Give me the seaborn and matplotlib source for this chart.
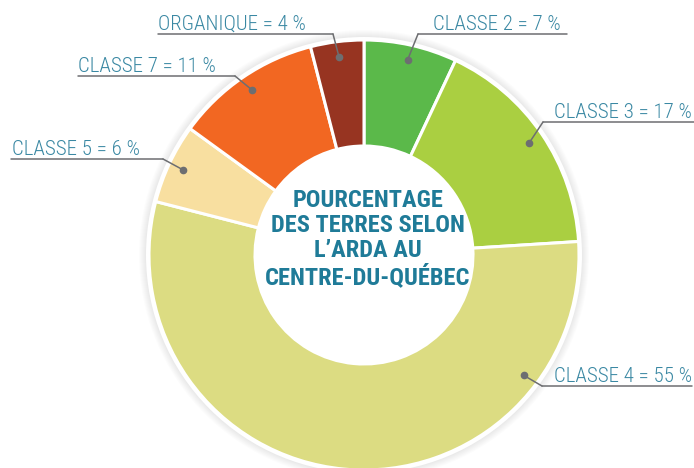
import matplotlib
matplotlib.use('Agg')
import matplotlib.pyplot as plt
from matplotlib import font_manager as fm
import seaborn as sns
import numpy as np
from matplotlib.patches import Circle

categories = ['CLASSE 2', 'CLASSE 3', 'CLASSE 4', 'CLASSE 5', 'CLASSE 7', 'ORGANIQUE']
percents = [7, 17, 55, 6, 11, 4]
colors = ['#5BB94A', '#AACF41', '#DCDC82', '#F8DFA0', '#F26722', '#973421']
title_lines = ['POURCENTAGE', 'DES TERRES SELON', 'L\u2019ARDA AU', 'CENTRE-DU-QUÉBEC']

# layout in image pixels (y down): text left x, underline y, underline x0, x1
label_layout = {
    'CLASSE 2': (433, 34, 418, 567),
    'CLASSE 3': (554, 122, 543, 694),
    'CLASSE 4': (554, 386, 542, 692),
    'CLASSE 5': (12, 159, 11, 163),
    'CLASSE 7': (78, 76, 78, 235),
    'ORGANIQUE': (158, 34, 158, 333),
}
dot_override = {'CLASSE 4': -37}

W, H = 694, 468
CX, CY = 364, 255
R, R_IN = 215, 109

sns.set_theme(style='white')

# narrow face if installed
names = {f.name for f in fm.fontManager.ttflist}
fam = 'DejaVu Sans'
for cand in ['Roboto Condensed', 'Liberation Sans Narrow']:
    if cand in names:
        fam = cand
        break
plt.rcParams['font.family'] = [fam, 'DejaVu Sans']

fig = plt.figure(figsize=(W / 100, H / 100), dpi=100)
ax = fig.add_axes([0, 0, 1, 1])

# faint shadow around the ring
for i in range(8):
    ax.add_patch(Circle((CX, H - CY), R + 3 + i, color='black', alpha=0.01, lw=0, zorder=0))
ax.add_patch(Circle((CX, H - CY), R + 3, color='white', lw=0, zorder=0.5))

wedges, _ = ax.pie(percents, colors=colors, startangle=90, counterclock=False,
                   center=(CX, H - CY), radius=R,
                   wedgeprops=dict(width=R - R_IN, edgecolor='white', linewidth=2.2))

text_col = '#3A88A3'
line_col = '#6D6E71'
for w, cat, pct in zip(wedges, categories, percents):
    ang = dot_override.get(cat, (w.theta1 + w.theta2) / 2)
    dx = CX + 200 * np.cos(np.radians(ang))
    dy = H - CY + 200 * np.sin(np.radians(ang))
    tx, uy, x0, x1 = label_layout[cat]
    ex = x0 if x0 > CX else x1
    ax.plot([x0, x1], [H - uy, H - uy], color=line_col, lw=1.1, zorder=3)
    ax.plot([ex, dx], [H - uy, dy], color=line_col, lw=1.1, zorder=3)
    ax.plot(dx, dy, 'o', color=line_col, ms=4.5, zorder=4)
    ax.text(tx, H - uy + 4, f'{cat} = {pct} %', fontsize=15, fontweight='light',
            color=text_col, ha='left', va='baseline', zorder=5)

ax.text(CX + 4, H - 239, '\n'.join(title_lines), fontsize=17.6, fontweight='bold',
        color='#1F7B98', ha='center', va='center', linespacing=1.12, zorder=5)

ax.set_xlim(0, W)
ax.set_ylim(0, H)
ax.set_aspect('auto')
ax.axis('off')
fig.savefig('out.png', dpi=100)
